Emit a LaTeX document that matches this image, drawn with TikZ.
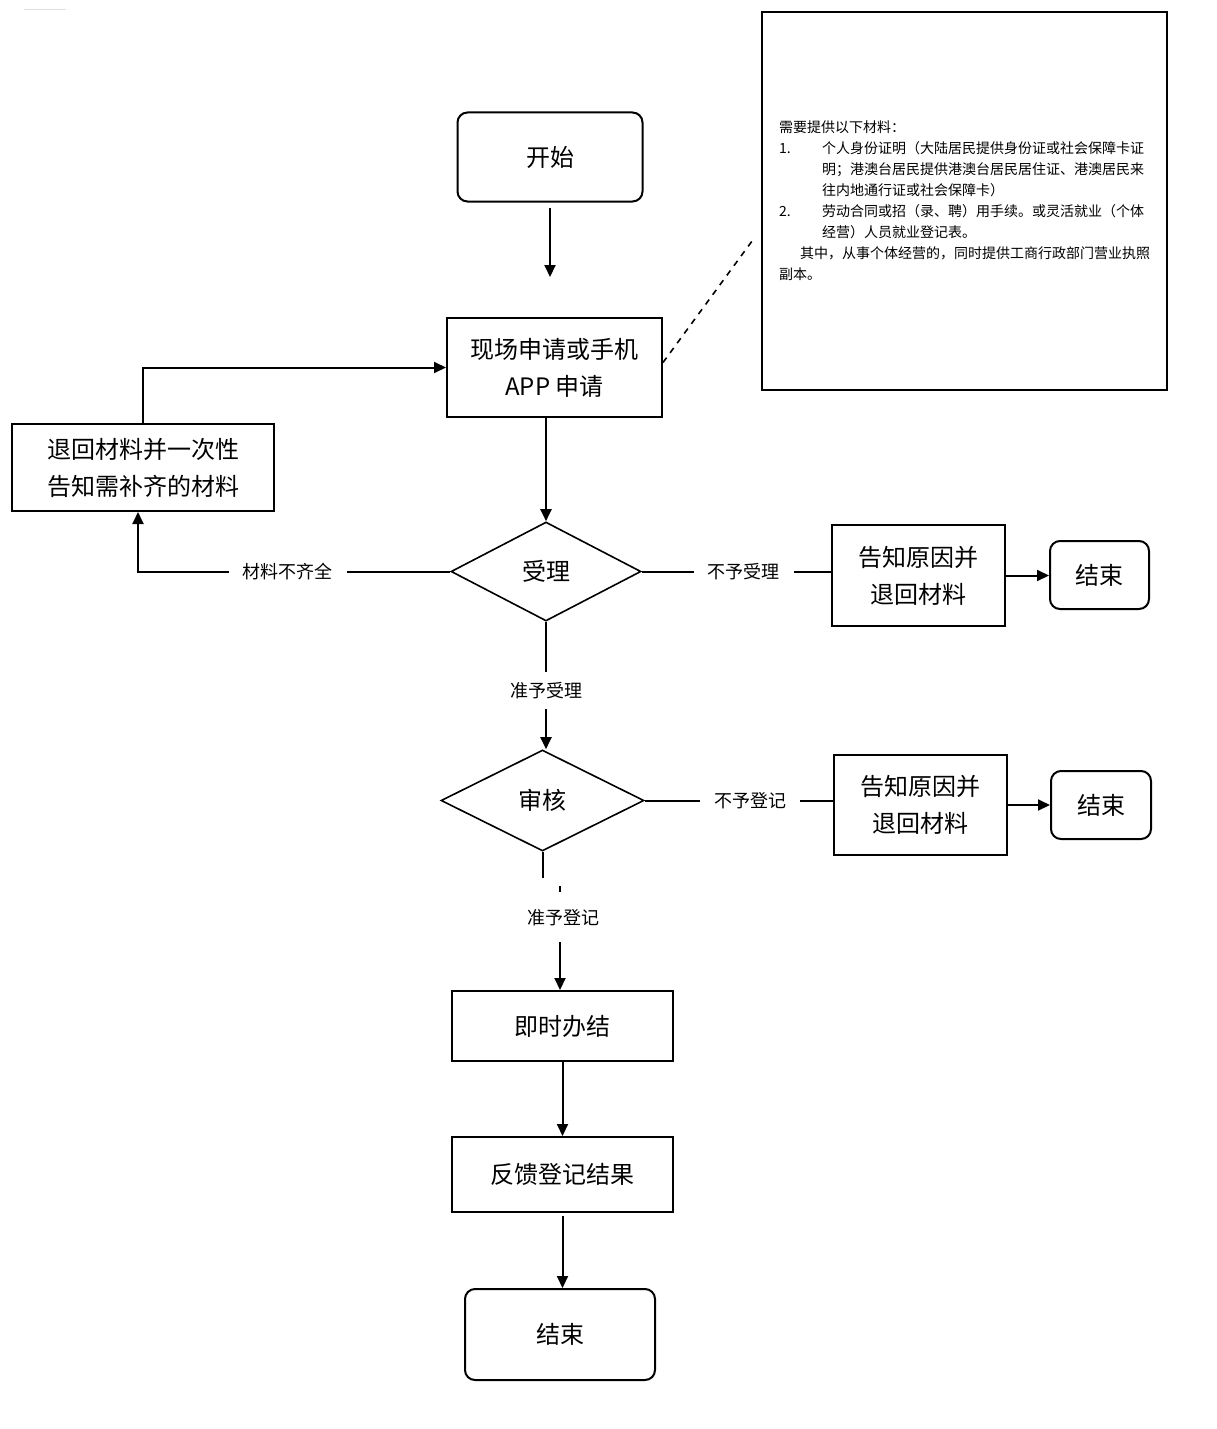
\documentclass[tikz,border=0pt]{standalone}
\usepackage{fontspec}
\setmainfont{Noto Sans CJK SC}
\usetikzlibrary{shapes.geometric, arrows.meta, positioning}
\tikzset{
	startstop/.style={rectangle, rounded corners=5pt, draw=black, line width=1pt, inner sep=0pt, align=center, font=\fontsize{12pt}{18.5pt}\selectfont},
	process/.style  ={rectangle, draw=black, line width=1pt, inner sep=0pt, align=center, font=\fontsize{12pt}{18.5pt}\selectfont},
	decision/.style ={diamond, draw=black, line width=0.8pt, inner sep=0pt, align=center, font=\fontsize{12pt}{18.5pt}\selectfont},
	notebox/.style  ={rectangle, draw=black, line width=1pt, inner sep=0pt, align=left, font=\fontsize{7pt}{10.5pt}\selectfont},
	lbl/.style      ={fill=white, inner xsep=7pt, inner ysep=5pt, font=\fontsize{9pt}{11pt}\selectfont},
	sig/.style      ={-{Triangle[length=6pt, width=5.5pt]}, line width=1pt},
	conn/.style     ={line width=1pt},
}
\newcommand{\hang}{\hspace*{21.5pt}}
\begin{document}
\begin{tikzpicture}[x=0.5pt, y=-0.5pt]
	\useasboundingbox (0,0) rectangle (1216,1429);
	\draw[gray!25, line width=0.5pt] (24,10) -- (66,10);
	% main column
	\node[startstop, minimum width=92.5pt, minimum height=44.5pt] (start) at (550,157) {开始};
	\node[process, minimum width=107.5pt, minimum height=49.5pt] (apply) at (554.5,367.5) {现场申请或手机\\APP 申请};
	\node[decision, minimum width=95pt, minimum height=49.5pt] (accept) at (546,571.5) {受理};
	\node[decision, minimum width=101.5pt, minimum height=50.5pt] (review) at (542.5,800.5) {审核};
	\node[process, minimum width=110.5pt, minimum height=35pt] (finish) at (562.5,1026) {即时办结};
	\node[process, minimum width=110.5pt, minimum height=37.5pt] (feedback) at (562.5,1174.5) {反馈登记结果};
	\node[startstop, minimum width=95pt, minimum height=45.5pt] (endall) at (560,1334.5) {结束};
	% side branches
	\node[process, minimum width=131pt, minimum height=43.5pt] (back) at (143,467.5) {退回材料并一次性\\告知需补齐的材料};
	\node[process, minimum width=86.5pt, minimum height=50.5pt] (reason1) at (918.5,575.5) {告知原因并\\退回材料};
	\node[startstop, minimum width=49.5pt, minimum height=34pt] (end1) at (1099.5,575) {结束};
	\node[process, minimum width=86.5pt, minimum height=50pt] (reason2) at (920.5,805) {告知原因并\\退回材料};
	\node[startstop, minimum width=50pt, minimum height=34pt] (end2) at (1101,805) {结束};
	% note
	\node[notebox, minimum width=202.5pt, minimum height=189pt] (note) at (964.5,201) {需要提供以下材料：\\
		\makebox[21.5pt][l]{1.}个人身份证明（大陆居民提供身份证或社会保障卡证\\
		\hang 明；港澳台居民提供港澳台居民居住证、港澳居民来\\
		\hang 往内地通行证或社会保障卡）\\
		\makebox[21.5pt][l]{2.}劳动合同或招（录、聘）用手续。或灵活就业（个体\\
		\hang 经营）人员就业登记表。\\
		\hspace*{10.5pt}其中，从事个体经营的，同时提供工商行政部门营业执照\\
		副本。};
	\draw[dashed, line width=0.8pt] ([yshift=2.5pt]apply.east) -- ([shift={(-6,36)}]note.west);
	% connectors
	\draw[sig, shorten <=2.5pt, shorten >=20pt] (start.south) -- (start.south |- apply.north);
	\draw[sig] (accept.north |- apply.south) -- (accept.north);
	\draw[sig] (accept.west) -| node[lbl, pos=0.26] {材料不齐全} ([xshift=-2.5pt]back.south);
	\draw[sig] (back.north) |- (apply.west);
	\draw[conn] (accept.east) -- node[lbl, pos=0.54] {不予受理} (accept.east -| reason1.west);
	\draw[sig] (reason1.east) -- (reason1.east -| end1.west);
	\draw[sig] (accept.south) -- node[lbl, pos=0.54] {准予受理} (accept.south |- review.north);
	\draw[conn] (review.east) -- node[lbl, pos=0.56] {不予登记} (review.east -| reason2.west);
	\draw[sig] (reason2.east) -- (end2.west);
	\node[lbl, inner ysep=0pt] (granted) at (563,918) {准予登记};
	\coordinate (gin) at (542,878);
	\coordinate (gout) at (560,942);
	\draw[conn] (review.south) -- (review.south |- gin);
	\draw[line width=1pt] (560,886) -- (560,892);
	\draw[sig] (gout) -- (gout |- finish.north);
	\draw[sig] (finish) -- (feedback);
	\draw[sig, shorten <=1.5pt] (feedback.south) -- (feedback.south |- endall.north);
\end{tikzpicture}
\end{document}
